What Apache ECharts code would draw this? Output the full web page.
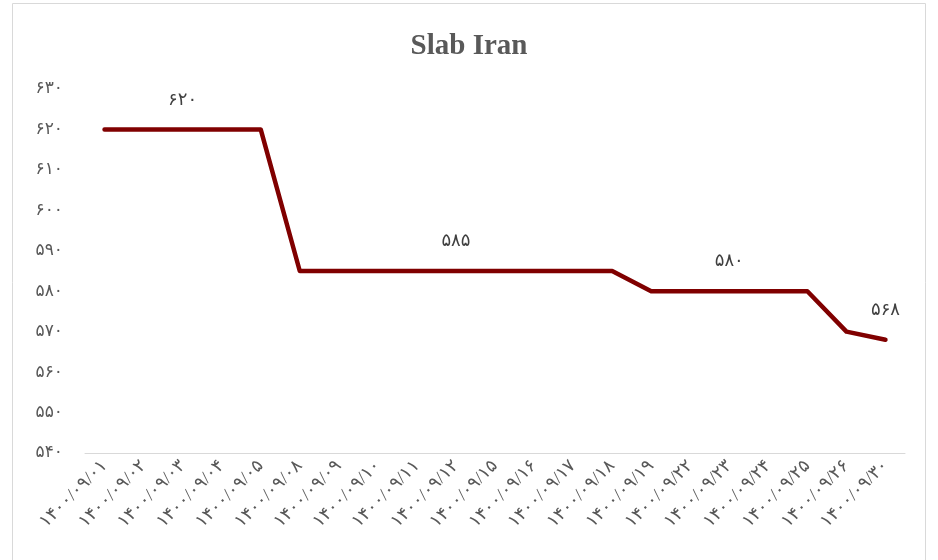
<!DOCTYPE html>
<html>
<head>
<meta charset="utf-8">
<script src="https://cdn.jsdelivr.net/npm/echarts@6/dist/echarts.min.js"></script>
<style>
    html, body { margin: 0; padding: 0; background: #fff; }
    #chart { width: 938px; height: 560px; }
</style>
</head>
<body>
<div id="chart"></div>
<script>
// dates (Persian calendar), values and which points carry a label
const dates = [
    "۱۴۰۰/۰۹/۰۱", "۱۴۰۰/۰۹/۰۲", "۱۴۰۰/۰۹/۰۳", "۱۴۰۰/۰۹/۰۴", "۱۴۰۰/۰۹/۰۵",
    "۱۴۰۰/۰۹/۰۸", "۱۴۰۰/۰۹/۰۹", "۱۴۰۰/۰۹/۱۰", "۱۴۰۰/۰۹/۱۱", "۱۴۰۰/۰۹/۱۲",
    "۱۴۰۰/۰۹/۱۵", "۱۴۰۰/۰۹/۱۶", "۱۴۰۰/۰۹/۱۷", "۱۴۰۰/۰۹/۱۸", "۱۴۰۰/۰۹/۱۹",
    "۱۴۰۰/۰۹/۲۲", "۱۴۰۰/۰۹/۲۳", "۱۴۰۰/۰۹/۲۴", "۱۴۰۰/۰۹/۲۵", "۱۴۰۰/۰۹/۲۶",
    "۱۴۰۰/۰۹/۳۰"
]
const prices = [620, 620, 620, 620, 620, 585, 585, 585, 585, 585, 585, 585, 585, 585, 580, 580, 580, 580, 580, 570, 568]
const labelledIdx = [2, 9, 16, 20]
const yMin = 540, yMax = 630, yStep = 10

const faDigits = "۰۱۲۳۴۵۶۷۸۹"
const toFa = (n) => String(n).replace(/[0-9]/g, (d) => faDigits[d])

const font = "'Times New Roman', 'DejaVu Sans', serif"
const chart = echarts.init(document.getElementById("chart"))

chart.setOption({
    animation: false,
    title: {
        text: "Slab Iran",
        left: "center",
        top: 27,
        textStyle: { fontFamily: "'Liberation Serif', serif", fontSize: 29, fontWeight: "bold", color: "#595959" }
    },
    graphic: [{
        type: "rect",
        shape: { x: 12.5, y: 3.5, width: 913, height: 570 },
        style: { fill: "none", stroke: "#d9d9d9", lineWidth: 1 },
        silent: true
    }],
    grid: { left: 85, right: 33, top: 89, bottom: 107 },
    xAxis: {
        type: "category",
        data: dates,
        boundaryGap: true,
        axisLine: { lineStyle: { color: "#d9d9d9", width: 1 } },
        axisTick: { show: false },
        axisLabel: { rotate: 45, interval: 0, fontFamily: font, fontSize: 18, color: "#595959", margin: 10 }
    },
    yAxis: {
        type: "value",
        min: yMin,
        max: yMax,
        interval: yStep,
        axisLine: { show: false },
        axisTick: { show: false },
        splitLine: { show: false },
        axisLabel: { formatter: (v) => toFa(v), fontFamily: font, fontSize: 17, color: "#595959", margin: 22 }
    },
    series: [{
        type: "line",
        data: prices.map((v, i) => ({
            value: v,
            label: { show: labelledIdx.includes(i) }
        })),
        symbol: "circle",
        symbolSize: 1,
        showSymbol: true,
        itemStyle: { color: "rgba(0,0,0,0)" },
        lineStyle: { color: "#800000", width: 4.5, cap: "round", join: "round" },
        label: {
            show: false,
            position: "top",
            distance: 20,
            formatter: (p) => toFa(p.value),
            fontFamily: font,
            fontSize: 18,
            color: "#404040"
        }
    }]
})
</script>
</body>
</html>
